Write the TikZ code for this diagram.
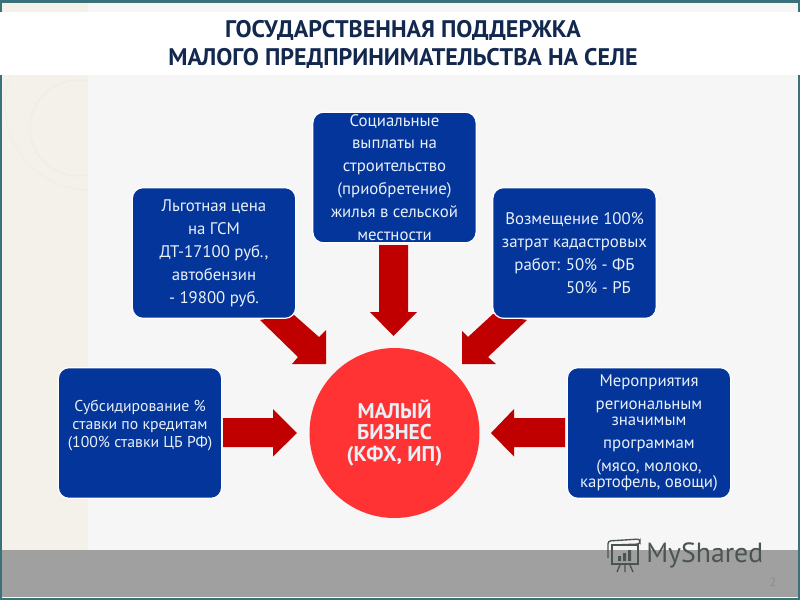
\documentclass[tikz,border=0pt]{standalone}
\usepackage{fontspec}
\setmainfont{PT Sans}
\definecolor{boxblue}{HTML}{04359A}
\definecolor{arrowred}{HTML}{C00000}
\definecolor{circred}{HTML}{FF3333}
\definecolor{titlenavy}{HTML}{12284F}
\definecolor{edgeteal}{HTML}{3A7279}
\definecolor{panel}{HTML}{F6F6F6}
\definecolor{strip}{HTML}{F3F1E9}
\definecolor{bandgrey}{HTML}{A0A0A0}
\definecolor{txtlight}{HTML}{E8F0F8}
\definecolor{logogrey}{HTML}{4A5550}
\tikzset{
  x=0.75pt,y=-0.75pt,
  bluebox/.style={draw=white,line width=0.9pt,fill=boxblue,rounded corners=8pt,minimum width=122.5pt,minimum height=98pt,inner sep=0pt,text=txtlight,font=\fontsize{12.6}{12.2}\selectfont,align=center},
  bigarrow/.style={fill=arrowred,draw=none},
}
\begin{document}
\begin{tikzpicture}
\useasboundingbox (0,0) rectangle (800,600);
\fill[edgeteal] (0,0) rectangle (800,600);
\fill[panel] (2,3) rectangle (798,598);
\fill[strip] (2,3) rectangle (88,550);
\begin{scope}
\clip (2,75) rectangle (88,550);
\draw[strip!96!gray,line width=0.8pt] (78,128) circle (48);
\draw[strip!97!gray,line width=0.8pt] (90,105) circle (85);
\end{scope}
\fill[white] (0,12) rectangle (800,75);
\fill[bandgrey] (2,550) rectangle (798,597);

\node[text=titlenavy,font=\fontsize{18}{21}\selectfont\bfseries,align=center] (title) at (403,44.5) {ГОСУДАРСТВЕННАЯ ПОДДЕРЖКА\\МАЛОГО ПРЕДПРИНИМАТЕЛЬСТВА НА СЕЛЕ};

\fill[bigarrow] (223,418) -- (273,418) -- (273,409) -- (297,433) -- (273,456.5) -- (273,447) -- (223,447) -- cycle;
\fill[bigarrow] (565,418) -- (514,418) -- (514,409) -- (491,433) -- (514,456.5) -- (514,447) -- (565,447) -- cycle;
\fill[bigarrow] (379,245) -- (408,245) -- (408,312) -- (417,312) -- (393.5,336) -- (370,312) -- (379,312) -- cycle;
\fill[bigarrow] (293,314) -- (260,320) -- (298,357) -- (292,364) -- (326,364) -- (326,330) -- (319,337) -- cycle;
\fill[bigarrow] (493,314) -- (527,320) -- (488,357) -- (496,364) -- (462,364) -- (462,331) -- (468,337) -- cycle;

\node[bluebox,font=\fontsize{11.8}{12.2}\selectfont] (b1) at (140,433) {Субсидирование \%\\[1.5pt]ставки по кредитам\\[1.5pt](100\% ставки ЦБ РФ)\\[1.3pt]\mbox{}};
\node[bluebox] (b2) at (214,253) {Льготная цена\\[5pt]на ГСМ\\[5pt]ДТ-17100 руб.,\\[5pt]автобензин\\[5pt]- 19800 руб.};
\node[bluebox] (b3) at (394.5,177.5) {Социальные\\[5pt]выплаты на\\[5pt]строительство\\[5pt](приобретение)\\[5pt]жилья в сельской\\[5pt]местности};
\node[bluebox] (b4) at (574.5,253) {Возмещение 100\%\\[5pt]затрат кадастровых\\[5pt]работ: 50\% - ФБ\\[5pt]\hspace*{36pt}50\% - РБ};
\node[bluebox] (b5) at (649,433) {Мероприятия\\[5pt]региональным\\значимым\\[5pt]программам\\[5pt](мясо, молоко,\\картофель, овощи)};

\node[circle,fill=circred,minimum size=127.5pt,inner sep=0pt,text=txtlight,font=\fontsize{16}{16}\selectfont\bfseries,align=center] (c) at (394.5,433) {МАЛЫЙ\\БИЗНЕС\\(КФХ, ИП)};

\node[text=logogrey,font=\fontsize{20.8}{20.8}\selectfont,anchor=west,inner sep=0pt] (logo) at (646,555) {MyShared};
\node[text=bandgrey!88!black,font=\fontsize{9}{9}\selectfont,inner sep=0pt] (pg) at (773,582) {2};
\draw[logogrey,line width=1pt] (612,545) rectangle (638,564);
\draw[logogrey,line width=1pt,rounded corners=2pt] (608,558) -- (608,541) -- (640,539) -- (640,544) -- (612,545);
\fill[logogrey] (618,556) rectangle (621,561) (623,553) rectangle (626,561) (628,550) rectangle (631,561);
\draw[logogrey,line width=1pt] (620,565) -- (617,572) (630,565) -- (633,572) (625,565) -- (625,572);
\end{tikzpicture}
\end{document}
